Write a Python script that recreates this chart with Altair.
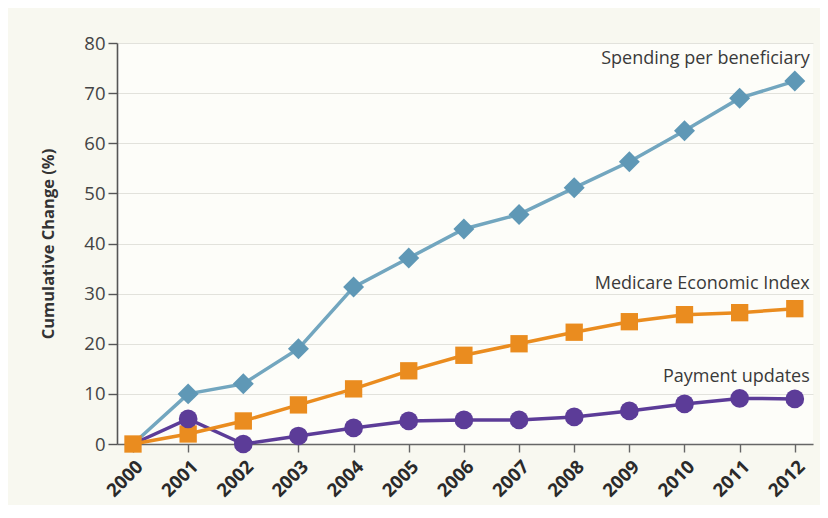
import altair as alt
import pandas as pd

years = list(range(2000, 2013))
spending = [0, 10, 12, 19, 31.3, 37.1, 42.9, 45.8, 51.1, 56.3, 62.5, 69.0, 72.4]
mei = [0, 2.0, 4.6, 7.8, 11.0, 14.6, 17.7, 20.0, 22.3, 24.4, 25.8, 26.2, 27.0]
payment = [0, 5.0, 0, 1.6, 3.2, 4.6, 4.8, 4.8, 5.4, 6.6, 8.0, 9.1, 9.0]
series_names = ["Spending per beneficiary", "Medicare Economic Index", "Payment updates"]

BLUE_LINE = "#72a6bf"
BLUE_PT = "#5f98b6"
ORANGE = "#ea8c1f"
PURPLE = "#5c3c98"

def frame(vals, name):
    return pd.DataFrame({"year": years, "value": vals, "series": name})

d_sp = frame(spending, series_names[0])
d_mei = frame(mei, series_names[1])
d_pay = frame(payment, series_names[2])

W, H = 696, 401
x_scale = alt.Scale(domain=[1999.71, 2012.33], nice=False, zero=False)
y_scale = alt.Scale(domain=[0, 80], nice=False)

x_enc = alt.X("year:Q", scale=x_scale, axis=alt.Axis(
    values=years, format="d", labelAngle=-45, title=None, grid=False,
    domainColor="#666", domainWidth=1.6, tickColor="#666", tickWidth=1.4, tickSize=8,
    labelFontSize=18.5, labelFontWeight="bold", labelColor="#2a2a2a", labelPadding=5,
    labelFont="Open Sans"))
y_enc = alt.Y("value:Q", scale=y_scale, axis=alt.Axis(
    values=list(range(0, 81, 10)), title="Cumulative Change (%)",
    grid=True, gridColor="#e2e2dc", gridWidth=1.2,
    domainColor="#555", domainWidth=1.6, tickColor="#555", tickWidth=1.4, tickSize=9,
    labelFontSize=18.5, labelColor="#444", labelPadding=3, labelFont="Open Sans",
    titleFont="Open Sans", titleFontSize=16.5, titleFontWeight="bold", titleColor="#333",
    titlePadding=27))

def line(df, color):
    return alt.Chart(df).mark_line(color=color, strokeWidth=3.5).encode(x=x_enc, y=y_enc)

def points(df, shape, size, color):
    return alt.Chart(df[df["year"] > 2000] if shape != "square" else df).mark_point(
        shape=shape, size=size, filled=True, color=color, opacity=1).encode(x=x_enc, y=y_enc)

def label(df, dy):
    last = df[df["year"] == years[-1]]
    return alt.Chart(last).mark_text(
        align="right", baseline="middle", dx=15, dy=dy, fontSize=18,
        font="Open Sans", color="#3a3a3a").encode(x=x_enc, y=y_enc, text="series:N")

chart = alt.layer(
    line(d_sp, BLUE_LINE),
    points(d_sp, "diamond", 440, BLUE_PT),
    line(d_pay, PURPLE),
    line(d_mei, ORANGE),
    points(d_mei, "square", 300, ORANGE),
    points(d_pay, "circle", 350, PURPLE),
    label(d_sp, -22),
    label(d_mei, -25),
    label(d_pay, -22),
).properties(
    width=W, height=H,
    autosize=alt.AutoSizeParams(type="none"),
    padding={"left": 109, "top": 35, "right": 7, "bottom": 61},
    background="#f8f8f0",
).configure_view(fill="#fdfdf9", stroke=None)

chart.save("out.html", embed_options={"renderer": "svg", "actions": False})
